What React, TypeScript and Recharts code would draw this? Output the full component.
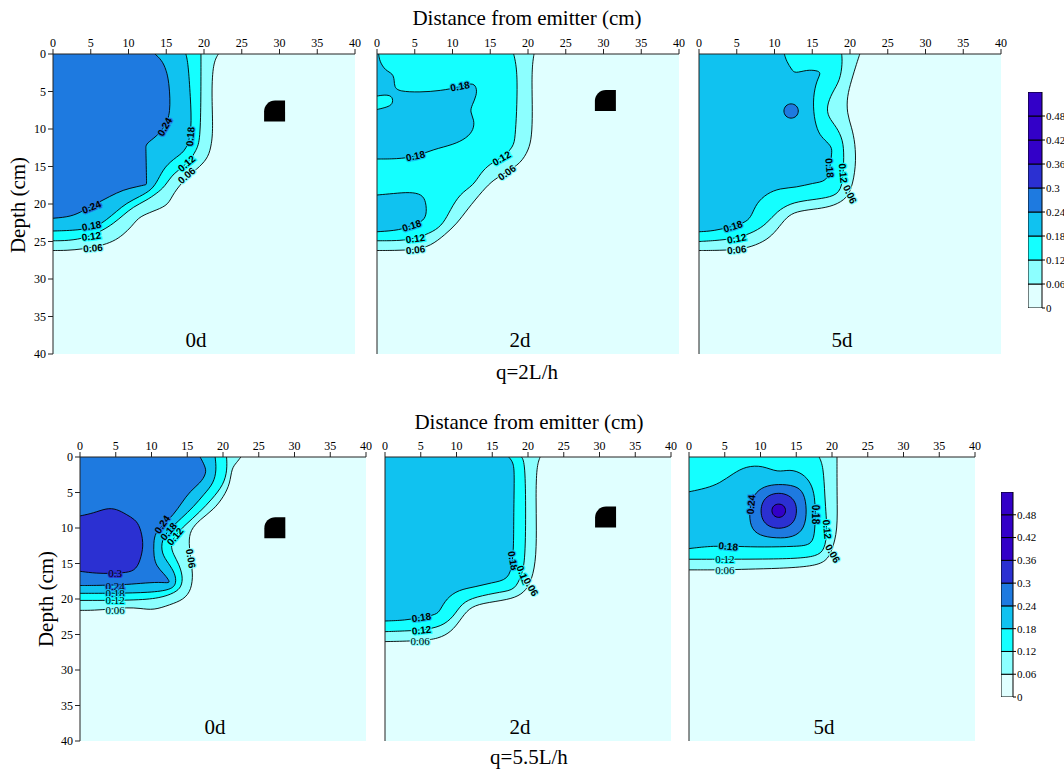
import React from "react";
import { ComposedChart, Area, Scatter, XAxis, YAxis, CartesianGrid, BarChart, Bar } from "recharts";

const FONT = "Liberation Serif, Tinos, Times New Roman, DejaVu Serif, serif";
const SANS = "Liberation Sans, Arimo, Arial, sans-serif";

// colour bands: 0-0.06, 0.06-0.12, ... 0.48-0.54
const BAND = ["#e0ffff", "#8cffff", "#14ffff", "#10c2f0", "#1e7ae0", "#2b30d2", "#3300c8", "#3300c8", "#3300c8"];
const barEdges = [0, 0.06, 0.12, 0.18, 0.24, 0.3, 0.36, 0.42, 0.48, 0.54];
const barTicks = [0, 0.06, 0.12, 0.18, 0.24, 0.3, 0.36, 0.42, 0.48];
const axisTicks = [0, 5, 10, 15, 20, 25, 30, 35, 40];

type Pt = [number, number]; // [distance, depth]
type Lb = [number, number, string, number, boolean?]; // [distance, depth, text, angle, thin]

// ---------- q=2L/h, 0d ----------
const t0_c06: Pt[] = [[21.9, 0], [21.2, 1.2], [21.0, 5], [21.2, 10], [21.0, 12], [20.6, 13.7], [19.5, 15.0], [17.7, 16.4], [15.9, 18.6], [15.3, 20.1], [13.7, 20.8], [11.9, 21.5], [11.1, 22.1], [10.4, 23.0], [9.3, 24.1], [8.0, 25.0], [6.2, 25.6], [4.0, 26.0], [1.8, 26.2], [0, 26.2]];
const t0_c12: Pt[] = [[19.6, 0], [19.6, 5.7], [19.5, 11.5], [19.0, 12.8], [17.9, 14.6], [15.9, 15.9], [14.8, 17.7], [13.7, 18.6], [12.4, 19.5], [10.6, 20.4], [9.3, 21.5], [8.0, 22.6], [6.6, 23.5], [4.5, 24.5], [2, 24.9], [0, 24.9]];
const t0_c18: Pt[] = [[17.6, 0], [17.9, 1.2], [18.2, 5.7], [18.4, 10.1], [17.7, 12.8], [16.4, 13.7], [14.8, 15.0], [13.9, 16.8], [13.1, 18.1], [11.5, 19.0], [9.7, 19.9], [8.4, 21.0], [7.1, 22.1], [5.8, 23.0], [3.5, 23.5], [0, 23.6]];
const t0_c24: Pt[] = [[13.5, 0], [14.4, 0.8], [15.0, 2.1], [15.4, 3.9], [15.6, 7.9], [14.8, 9.7], [13.7, 11.0], [12.4, 11.9], [12.3, 12.4], [12.3, 12.4], [12.4, 17.4], [12.4, 17.4], [11.1, 17.7], [9.3, 18.1], [7.5, 19.0], [5.8, 19.9], [4.0, 20.9], [2.4, 21.7], [0, 21.9]];
const t0_emit: Pt[] = [[29.35, 7.6]];
const t0_lbl: Lb[] = [[14.8, 9.7, "0.24", -60], [18.2, 11.0, "0.18", -85], [17.7, 14.6, "0.12", -40], [17.7, 16.2, "0.06", -40], [5.1, 20.4, "0.24", -22], [5.1, 22.9, "0.18", -10], [5.1, 24.3, "0.12", -8], [5.3, 25.9, "0.06", -5]];

// ---------- q=2L/h, 2d ----------
const t2_c06: Pt[] = [[20.8, 0], [20.6, 1.2], [20.5, 3.5], [20.6, 7.9], [20.5, 11.0], [20.1, 12.8], [19.0, 14.6], [17.2, 15.7], [15.4, 16.8], [14.1, 18.1], [11.9, 20.8], [10.6, 22.6], [9.0, 24.1], [7.1, 25.6], [5.1, 26.1], [2.2, 26.2], [0, 26.2]];
const t2_c12: Pt[] = [[18.1, 0], [18.4, 1.2], [18.6, 3.5], [18.5, 7.9], [18.3, 11.0], [18.1, 12.4], [16.5, 13.9], [15.0, 14.6], [13.7, 15.9], [12.8, 17.5], [11.0, 18.6], [9.7, 20.8], [8.8, 22.6], [7.5, 23.7], [5.1, 24.6], [3.1, 24.9], [0, 24.9]];
const t2_c18a: Pt[] = [[0.22, 0], [0.35, 1.0], [1.1, 2.2], [2.1, 2.6], [2.3, 3.5], [2.3, 4.4], [2.9, 5.0], [5.7, 5.1], [8.4, 4.9], [11.0, 4.4], [12.6, 3.8], [13.2, 4.4], [13.2, 5.5], [12.6, 6.8], [12.3, 7.7], [12.9, 8.8], [12.8, 10.1], [11.9, 11.2], [10.1, 12.1], [7.5, 12.7], [5.1, 13.7], [2.6, 14.0], [0, 14.0]];
const t2_c12hole: Pt[] = [[0, 5.6], [1.3, 5.4], [2.1, 5.7], [2.1, 6.7], [1.3, 7.1], [0, 7.4]];
const t2_c18b: Pt[] = [[0, 18.8], [2.2, 18.6], [4.4, 18.4], [5.95, 18.7], [6.5, 19.7], [6.6, 21.5], [5.95, 22.4], [4.6, 22.8], [3.1, 23.5], [0, 23.7]];
const t2_emit: Pt[] = [[30.25, 6.2]];
const t2_lbl: Lb[] = [[11.0, 4.3, "0.18", -10], [5.1, 13.6, "0.18", -12], [16.5, 13.9, "0.12", -30], [17.2, 15.8, "0.06", -35], [4.6, 22.9, "0.18", -18], [5.1, 24.6, "0.12", -8], [5.1, 26.1, "0.06", -6]];

// ---------- q=2L/h, 5d ----------
const t5_c06: Pt[] = [[21.3, 0], [20.9, 1.2], [20.2, 3.5], [19.6, 5.7], [19.6, 7.9], [20.2, 9.7], [20.7, 11.9], [20.8, 15.0], [20.2, 18.1], [19.3, 19.5], [17.4, 20.4], [15.1, 20.7], [12.9, 21.0], [11.6, 21.7], [10.3, 23.5], [9.0, 24.8], [7.0, 25.7], [5.0, 26.1], [1.9, 26.2], [0, 26.2]];
const t5_c12: Pt[] = [[18.9, 0], [19.0, 1.2], [18.7, 3.5], [17.6, 5.2], [16.9, 7.0], [17.1, 8.4], [18.2, 9.7], [19.1, 11.5], [19.2, 13.7], [19.1, 16.4], [18.7, 18.6], [16.9, 19.2], [14.3, 19.5], [12.1, 19.9], [10.3, 21.0], [9.0, 22.6], [7.4, 23.7], [5.0, 24.6], [1.9, 24.9], [0, 25.0]];
const t5_c18: Pt[] = [[11.3, 0], [11.6, 1.0], [12.3, 2.1], [12.7, 2.6], [14.3, 2.1], [15.6, 2.2], [16.2, 2.5], [15.6, 3.5], [15.1, 5.7], [15.2, 8.4], [15.8, 10.6], [16.7, 11.5], [17.6, 12.4], [17.6, 13.2], [17.3, 15.5], [16.9, 17.0], [15.1, 17.2], [12.9, 17.8], [10.7, 17.9], [9.0, 18.6], [7.6, 19.9], [7.0, 21.5], [6.3, 22.4], [4.5, 23.0], [1.9, 23.6], [0, 23.7]];
const t5_c24: Pt[] = [[12.2, 6.55], [12.95, 6.85], [13.25, 7.6], [12.95, 8.35], [12.2, 8.65], [11.45, 8.35], [11.15, 7.6], [11.45, 6.85]];
const t5_lbl: Lb[] = [[17.3, 15.2, "0.18", 85], [19.1, 15.9, "0.12", 85], [20.0, 18.7, "0.06", 65], [4.5, 23.0, "0.18", -18], [5.0, 24.6, "0.12", -10], [5.0, 26.1, "0.06", -6]];

// ---------- q=5.5L/h, 0d ----------
const b0_c06: Pt[] = [[22.5, 0], [21.9, 0.8], [21.2, 1.6], [21.0, 3.7], [20.1, 5.6], [18.7, 7.4], [16.8, 8.8], [15.4, 10.3], [15.2, 12.1], [15.5, 14.5], [15.8, 16.4], [15.6, 18.7], [14.5, 20.1], [12.6, 20.8], [10.3, 21.6], [8.4, 21.3], [6.5, 21.2], [4.5, 21.4], [1.9, 21.6], [0, 21.6]];
const b0_c12: Pt[] = [[20.5, 0], [20.6, 1.8], [20.1, 3.9], [18.4, 6.0], [16.8, 7.7], [14.7, 9.6], [13.4, 10.9], [12.6, 12.4], [13.1, 13.8], [13.8, 15.0], [14.4, 16.8], [14.2, 18.3], [13.3, 19.1], [11.2, 19.9], [7.5, 20.2], [0, 20.2]];
const b0_c18: Pt[] = [[18.9, 0], [19.1, 1.8], [18.7, 3.7], [17.3, 5.3], [15.9, 7.0], [14.2, 8.6], [12.4, 10.3], [11.4, 11.7], [11.4, 13.6], [12.4, 15.0], [13.3, 16.4], [13.5, 17.8], [12.8, 18.7], [9.8, 19.1], [4.9, 19.2], [0, 19.2]];
const b0_c24: Pt[] = [[16.8, 0], [17.5, 1.3], [17.7, 2.3], [16.8, 3.7], [15.4, 4.8], [14.2, 6.5], [13.1, 8.1], [11.6, 9.6], [10.5, 10.7], [10.3, 12.1], [10.3, 14.0], [10.7, 15.4], [11.7, 16.4], [12.4, 17.3], [12.6, 17.8], [11.2, 17.6], [8.4, 17.8], [6.1, 18.0], [1.9, 18.1], [0, 18.1]];
const b0_c30: Pt[] = [[0, 8.3], [1.9, 7.9], [3.7, 7.2], [5.1, 7.3], [6.5, 8.1], [7.7, 8.8], [8.4, 9.8], [8.9, 12.1], [8.6, 14.0], [7.9, 15.9], [6.5, 16.3], [4.4, 16.4], [2.3, 16.4], [0, 16.1]];
const b0_emit: Pt[] = [[27.25, 9.95]];
const b0_lbl: Lb[] = [[11.5, 9.5, "0.24", -55], [12.4, 10.5, "0.18", -50], [13.3, 11.2, "0.12", -50], [15.5, 14.3, "0.06", 80], [4.9, 16.4, "0.3", 0, true], [4.9, 18.1, "0.24", 0, true], [4.9, 19.2, "0.18", 0, true], [4.9, 20.2, "0.12", 0, true], [4.9, 21.5, "0.06", 0, true]];

// ---------- q=5.5L/h, 2d ----------
const b2_c06: Pt[] = [[21.7, 0], [21.2, 1.3], [21.1, 5.6], [21.2, 10.3], [21.1, 15.0], [20.3, 18.0], [19.1, 19.4], [17.3, 20.1], [13.5, 20.6], [11.7, 21.3], [10.5, 23.0], [9.3, 24.6], [7.5, 25.6], [4.9, 25.9], [0, 26.0]];
const b2_c12: Pt[] = [[19.1, 0], [19.6, 0.8], [19.7, 7.9], [19.6, 15.0], [19.0, 16.8], [18.2, 18.7], [16.3, 19.0], [12.6, 19.7], [10.7, 20.6], [9.6, 22.5], [7.9, 23.9], [5.1, 24.4], [2.8, 24.5], [0, 24.6]];
const b2_c18: Pt[] = [[17.3, 0], [18.0, 0.8], [18.1, 2.7], [18.0, 7.9], [18.0, 12.6], [17.8, 15.0], [17.3, 17.3], [14.9, 17.7], [12.6, 18.3], [10.3, 18.7], [8.6, 19.9], [7.7, 21.6], [7.2, 22.2], [5.1, 22.6], [2.8, 23.0], [0, 23.1]];
const b2_emit: Pt[] = [[30.85, 8.45]];
const b2_lbl: Lb[] = [[17.9, 14.6, "0.18", 80], [19.3, 16.6, "0.12", 70], [20.4, 18.3, "0.06", 60], [5.1, 22.6, "0.18", -8], [5.1, 24.4, "0.12", -6], [4.9, 25.9, "0.06", 0, true]];

// ---------- q=5.5L/h, 5d ----------
const b5_c06: Pt[] = [[20.7, 0], [20.7, 5.6], [20.8, 10.3], [20.0, 13.2], [19.2, 14.7], [17.3, 15.4], [12.7, 15.7], [8.0, 15.8], [5.0, 15.9], [0, 15.9]];
const b5_c12: Pt[] = [[18.2, 0], [18.8, 1.3], [19.0, 5.6], [19.2, 8.4], [19.3, 10.5], [19.0, 13.1], [17.8, 14.0], [15.0, 14.3], [10.3, 14.4], [0, 14.4]];
const b5_c18: Pt[] = [[0, 4.9], [2.4, 4.4], [4.3, 3.7], [6.2, 2.3], [8.0, 1.3], [10.3, 1.2], [12.4, 2.2], [14.1, 1.7], [15.9, 2.3], [17.1, 3.7], [17.6, 5.6], [17.7, 8.1], [17.6, 10.3], [17.3, 12.4], [15.0, 12.6], [10.3, 12.7], [6.9, 12.6], [3.4, 12.5], [0, 12.9]];
const b5_c24: Pt[] = [[12.45, 3.8], [14.9, 4.0], [16.1, 5.0], [16.5, 7.4], [16.2, 10.1], [14.6, 11.35], [12.2, 11.45], [9.8, 11.1], [8.55, 9.9], [8.4, 7.4], [9.05, 5.2], [10.5, 4.1]];
const b5_c30: Pt[] = [[12.55, 5.0], [14.0, 5.35], [14.9, 6.3], [15.1, 7.6], [14.85, 8.9], [14.0, 9.8], [12.55, 10.15], [11.1, 9.8], [10.25, 8.9], [10.0, 7.6], [10.25, 6.3], [11.1, 5.35]];
const b5_c36: Pt[] = [[12.55, 6.55], [13.3, 6.8], [13.6, 7.55], [13.3, 8.3], [12.55, 8.6], [11.8, 8.3], [11.5, 7.55], [11.8, 6.8]];
const b5_lbl: Lb[] = [[8.7, 6.7, "0.24", -85], [17.7, 8.1, "0.18", 90], [19.3, 10.2, "0.12", 85], [20.1, 13.6, "0.06", 60], [5.5, 12.6, "0.18", 5], [5.0, 14.4, "0.12", 0, true], [5.0, 15.9, "0.06", 0, true]];

interface Shape { pts: Pt[]; lvl: number; loop?: boolean }

const LabelShape = (props: any) => {
  const { cx, cy, payload } = props;
  if (cx == null || cy == null) return null;
  const lvl = Math.round(parseFloat(payload.t) / 0.06);
  const halo = BAND[Math.min(lvl, BAND.length - 1)];
  return (
    <text
      x={cx}
      y={cy}
      transform={`rotate(${payload.a} ${cx} ${cy})`}
      textAnchor="middle"
      dominantBaseline="central"
      fontSize={payload.thin ? 11 : 10}
      fontWeight={payload.thin ? 400 : 700}
      fontFamily={payload.thin ? FONT : SANS}
      fill="#000"
      stroke={halo}
      strokeWidth={2.2}
      paintOrder="stroke"
    >
      {payload.t}
    </text>
  );
};

const EmitterShape = (props: any) => {
  const { cx, cy } = props;
  if (cx == null || cy == null) return null;
  const s = 21;
  const r = 11;
  const x0 = cx - s / 2;
  const y0 = cy - s / 2;
  return <path d={`M${x0 + r},${y0} H${x0 + s} V${y0 + s} H${x0} V${y0 + r} A${r},${r} 0 0 1 ${x0 + r},${y0} Z`} fill="#000" />;
};

function Panel({ rect, shapes, labels, emitter, showY, tag }: { rect: number[]; shapes: Shape[]; labels: Lb[]; emitter?: Pt[]; showY: boolean; tag: string }) {
  const [px, py, pw, ph] = rect;
  const tickStyle = { fontSize: 12, fill: "#000", fontFamily: FONT };
  return (
    <>
      <div style={{ position: "absolute", left: px - 50, top: py - 30 }}>
        <ComposedChart width={pw + 60} height={ph + 40} margin={{ top: 4, left: 6, right: 10, bottom: 10 }}>
          <CartesianGrid horizontal={false} vertical={false} fill={BAND[0]} fillOpacity={1} />
          <XAxis type="number" dataKey="x" domain={[0, 40]} ticks={axisTicks} interval={0} orientation="top" allowDataOverflow height={26} tickSize={5} tick={tickStyle} stroke="#222" />
          <XAxis xAxisId="b" type="number" domain={[0, 40]} orientation="bottom" allowDataOverflow height={0} tick={false} tickLine={false} stroke="#222" />
          <YAxis type="number" dataKey="d" domain={[0, 40]} ticks={axisTicks} interval={0} reversed allowDataOverflow width={44} tickSize={5} tick={showY ? tickStyle : false} tickLine={showY} stroke="#222" />
          <YAxis yAxisId="r" type="number" domain={[0, 40]} orientation="right" allowDataOverflow width={0} tick={false} tickLine={false} stroke="#222" />
          {shapes.map((s, i) => (
            <Area
              key={i}
              data={s.pts.map(([x, d]) => ({ x, d }))}
              dataKey="d"
              type={s.loop ? "basisClosed" : "basis"}
              fill={BAND[s.lvl]}
              fillOpacity={1}
              stroke="#000"
              strokeWidth={0.9}
              dot={false}
              activeDot={false}
              isAnimationActive={false}
            />
          ))}
          {emitter && <Scatter data={emitter.map(([x, d]) => ({ x, d }))} dataKey="d" shape={EmitterShape} isAnimationActive={false} />}
          <Scatter data={labels.map(([x, d, t, a, thin]) => ({ x, d, t, a, thin }))} dataKey="d" shape={LabelShape} isAnimationActive={false} />
        </ComposedChart>
      </div>
      <div style={{ position: "absolute", left: px + pw / 2 - 58, width: 100, top: py + ph - 27, textAlign: "center", fontSize: 21, lineHeight: "26px", fontFamily: FONT }}>{tag}</div>
    </>
  );
}

function ColorBar({ rect }: { rect: number[] }) {
  const [bx, by, bw, bh] = rect;
  const row: Record<string, number | string> = { name: "c" };
  for (let i = 0; i < barEdges.length - 1; i++) row[`b${i}`] = barEdges[i + 1] - barEdges[i];
  return (
    <div style={{ position: "absolute", left: bx, top: by - 10 }}>
      <BarChart width={bw + 36} height={bh + 20} data={[row]} margin={{ top: 10, right: 0, bottom: 10, left: 0 }} barCategoryGap={0} barGap={0}>
        <XAxis dataKey="name" hide />
        <YAxis orientation="right" type="number" domain={[0, 0.54]} ticks={barTicks} interval={0} width={36} tickSize={3} tickMargin={1} axisLine={false} stroke="#000" tick={{ fontSize: 11, fill: "#000", fontFamily: FONT }} allowDataOverflow />
        {barEdges.slice(0, -1).map((_, i) => (
          <Bar key={i} dataKey={`b${i}`} stackId="c" fill={BAND[i]} stroke="#000" strokeWidth={1} isAnimationActive={false} />
        ))}
      </BarChart>
    </div>
  );
}

const Txt = ({ x, y, children, rotate }: { x: number; y: number; children: React.ReactNode; rotate?: boolean }) => (
  <div
    style={{
      position: "absolute",
      left: x - 150,
      top: y - 13,
      width: 300,
      height: 26,
      lineHeight: "26px",
      textAlign: "center",
      fontSize: 21,
      fontFamily: FONT,
      whiteSpace: "nowrap",
      transform: rotate ? "rotate(-90deg)" : undefined,
    }}
  >
    {children}
  </div>
);

export default function App() {
  return (
    <div style={{ position: "absolute", left: 0, top: 0, width: 1064, height: 769, background: "#fff", overflow: "hidden", fontFamily: FONT }}>
      <Txt x={527} y={18}>Distance from emitter (cm)</Txt>
      <Txt x={18} y={205} rotate>Depth (cm)</Txt>
      <Panel rect={[53, 54, 302, 300]} showY tag="0d" emitter={t0_emit} labels={t0_lbl}
        shapes={[{ pts: t0_c06, lvl: 1 }, { pts: t0_c12, lvl: 2 }, { pts: t0_c18, lvl: 3 }, { pts: t0_c24, lvl: 4 }]} />
      <Panel rect={[377, 54, 302, 300]} showY={false} tag="2d" emitter={t2_emit} labels={t2_lbl}
        shapes={[{ pts: t2_c06, lvl: 1 }, { pts: t2_c12, lvl: 2 }, { pts: t2_c18a, lvl: 3 }, { pts: t2_c12hole, lvl: 2 }, { pts: t2_c18b, lvl: 3 }]} />
      <Panel rect={[699, 54, 302, 300]} showY={false} tag="5d" labels={t5_lbl}
        shapes={[{ pts: t5_c06, lvl: 1 }, { pts: t5_c12, lvl: 2 }, { pts: t5_c18, lvl: 3 }, { pts: t5_c24, lvl: 4, loop: true }]} />
      <ColorBar rect={[1028, 92, 14, 216]} />
      <Txt x={527} y={372}>q=2L/h</Txt>

      <Txt x={529} y={422}>Distance from emitter (cm)</Txt>
      <Txt x={46} y={599} rotate>Depth (cm)</Txt>
      <Panel rect={[80, 457, 286, 284]} showY tag="0d" emitter={b0_emit} labels={b0_lbl}
        shapes={[{ pts: b0_c06, lvl: 1 }, { pts: b0_c12, lvl: 2 }, { pts: b0_c18, lvl: 3 }, { pts: b0_c24, lvl: 4 }, { pts: b0_c30, lvl: 5 }]} />
      <Panel rect={[385, 457, 286, 284]} showY={false} tag="2d" emitter={b2_emit} labels={b2_lbl}
        shapes={[{ pts: b2_c06, lvl: 1 }, { pts: b2_c12, lvl: 2 }, { pts: b2_c18, lvl: 3 }]} />
      <Panel rect={[689, 457, 286, 284]} showY={false} tag="5d" labels={b5_lbl}
        shapes={[{ pts: b5_c06, lvl: 1 }, { pts: b5_c12, lvl: 2 }, { pts: b5_c18, lvl: 3 }, { pts: b5_c24, lvl: 4, loop: true }, { pts: b5_c30, lvl: 5, loop: true }, { pts: b5_c36, lvl: 6, loop: true }]} />
      <ColorBar rect={[1001, 492, 12, 205]} />
      <Txt x={529} y={757}>q=5.5L/h</Txt>
    </div>
  );
}
